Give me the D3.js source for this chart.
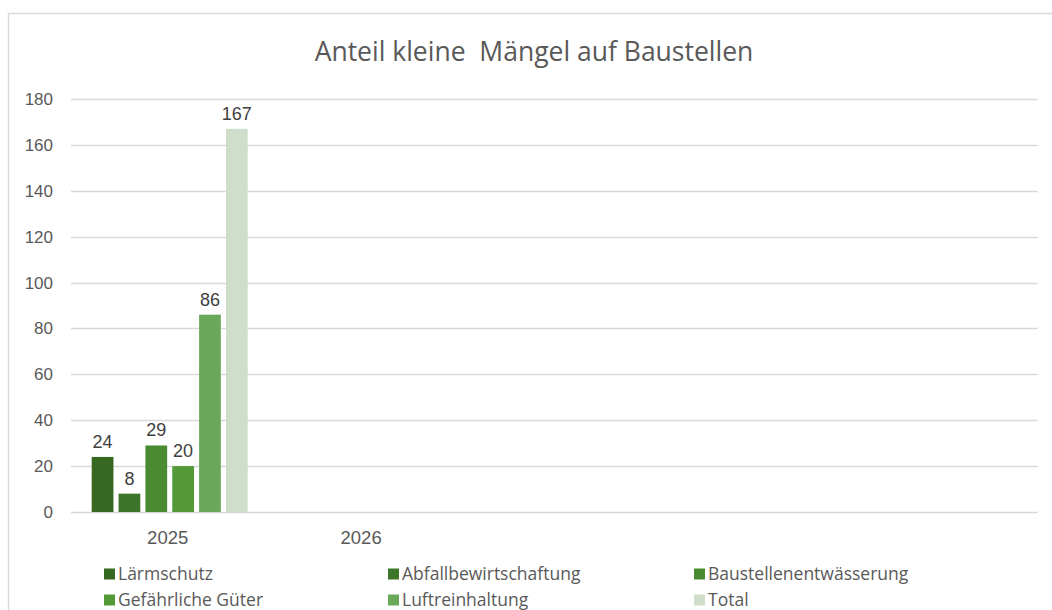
<!DOCTYPE html>
<html>
<head>
<meta charset="utf-8">
<style>
  body { margin: 0; background: #fff; }
  .tick-label { font-family: "Liberation Sans", Arial, sans-serif; font-size: 17px; fill: #595959; }
  .cat-label { font-family: "Liberation Sans", Arial, sans-serif; font-size: 18.5px; fill: #595959; }
  .data-label { font-family: "Liberation Sans", Arial, sans-serif; font-size: 18px; fill: #404040; }
  .title { font-family: "Open Sans", sans-serif; font-size: 26.5px; fill: #595959; }
  .legend-label { font-family: "Open Sans", sans-serif; font-size: 17.5px; fill: #595959; }
</style>
</head>
<body>
<div id="chart"></div>
<script src="https://d3js.org/d3.v7.min.js"></script>
<script>
  // categories on the x axis (Excel keeps 3 blank slots after 2026)
  const categories = ['2025', '2026', '', '', ''];
  const seriesNames = ['Lärmschutz', 'Abfallbewirtschaftung', 'Baustellenentwässerung',
                       'Gefährliche Güter', 'Luftreinhaltung', 'Total'];
  const seriesColors = ['#376821', '#3e7629', '#4a8b32', '#539937', '#6aa85a', '#cfdeca'];
  // values per series for 2025 (no data for 2026)
  const values2025 = [24, 8, 29, 20, 86, 167];
  const yTicks = [0, 20, 40, 60, 80, 100, 120, 140, 160, 180];

  const width = 1052;
  const height = 610;
  const margin = { top: 99, right: 14, bottom: 98, left: 71 };

  const svg = d3.select('#chart')
    .append('svg')
    .attr('width', width)
    .attr('height', height);

  // chart frame (cut off at right and bottom)
  svg.append('path')
    .attr('d', `M8.5,${height + 2} V13.5 H${width + 2}`)
    .attr('fill', 'none')
    .attr('stroke', '#d9d9d9')
    .attr('stroke-width', 1.5);

  const xScale = d3.scaleBand()
    .domain(d3.range(categories.length))
    .range([margin.left, width - margin.right]);

  const yScale = d3.scaleLinear()
    .domain([0, 180])
    .range([height - margin.bottom, margin.top]);

  // inner scale for the six bars inside one category
  const xInner = d3.scaleBand()
    .domain(d3.range(seriesNames.length))
    .range([0, 156])
    .paddingInner(0.19);

  // gridlines
  svg.append('g')
    .selectAll('line')
    .data(yTicks)
    .enter()
    .append('line')
    .attr('x1', margin.left)
    .attr('x2', width - margin.right)
    .attr('y1', d => Math.round(yScale(d)) + 0.5)
    .attr('y2', d => Math.round(yScale(d)) + 0.5)
    .attr('stroke', '#d9d9d9')
    .attr('stroke-width', d => d === 0 ? 1.5 : 1.3);

  // y tick labels
  svg.append('g')
    .selectAll('text')
    .data(yTicks)
    .enter()
    .append('text')
    .attr('class', 'tick-label')
    .attr('x', 53)
    .attr('y', d => yScale(d) + 6)
    .attr('text-anchor', 'end')
    .text(d => d);

  // x category labels
  svg.append('g')
    .selectAll('text')
    .data(categories)
    .enter()
    .append('text')
    .attr('class', 'cat-label')
    .attr('x', (d, i) => xScale(i) + xScale.bandwidth() / 2)
    .attr('y', 544)
    .attr('text-anchor', 'middle')
    .text(d => d);

  // bars for 2025
  const groupX = xScale(0) + xScale.bandwidth() / 2 - 76;
  const barData = values2025.map((v, i) => ({ i: i, value: v }));

  svg.append('g')
    .selectAll('rect')
    .data(barData)
    .enter()
    .append('rect')
    .attr('x', d => groupX + xInner(d.i))
    .attr('y', d => yScale(d.value))
    .attr('width', xInner.bandwidth())
    .attr('height', d => yScale(0) - yScale(d.value))
    .attr('fill', d => seriesColors[d.i]);

  svg.append('g')
    .selectAll('text')
    .data(barData)
    .enter()
    .append('text')
    .attr('class', 'data-label')
    .attr('x', d => groupX + xInner(d.i) + xInner.bandwidth() / 2)
    .attr('y', d => yScale(d.value) - 9)
    .attr('text-anchor', 'middle')
    .text(d => d.value);

  // title
  svg.append('text')
    .attr('class', 'title')
    .attr('x', 534)
    .attr('y', 61)
    .attr('text-anchor', 'middle')
    .attr('xml:space', 'preserve')
    .text('Anteil kleine  Mängel auf Baustellen');

  // legend, 3 columns x 2 rows
  const legendCols = [104, 388, 694];
  const legendRows = [574, 600];
  const legend = svg.append('g')
    .selectAll('g')
    .data(seriesNames)
    .enter()
    .append('g')
    .attr('transform', (d, i) => `translate(${legendCols[i % 3]}, ${legendRows[Math.floor(i / 3)]})`);

  legend.append('rect')
    .attr('x', 0)
    .attr('y', -5.5)
    .attr('width', 11)
    .attr('height', 11)
    .attr('fill', (d, i) => seriesColors[i]);

  legend.append('text')
    .attr('class', 'legend-label')
    .attr('x', 14)
    .attr('y', 6)
    .text(d => d);
</script>
</body>
</html>
